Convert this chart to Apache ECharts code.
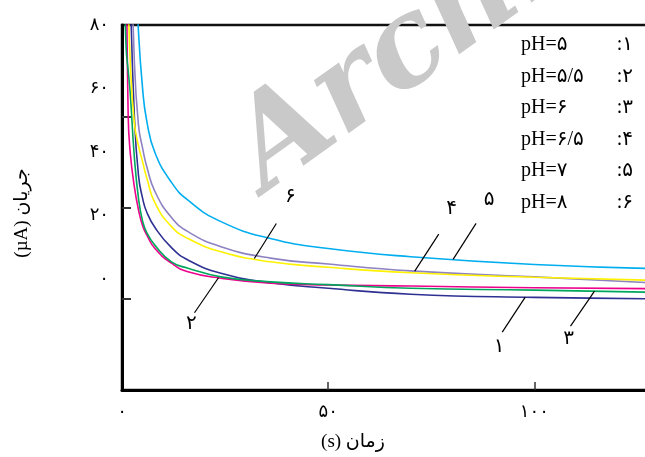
<!DOCTYPE html>
<html>
<head>
<meta charset="utf-8">
<script src="https://cdn.jsdelivr.net/npm/echarts@6/dist/echarts.min.js"></script>
<style>
  html, body { margin: 0; padding: 0; background: #fff; }
  #main { width: 645px; height: 457px; }
</style>
</head>
<body>
<div id="main"></div>
<script>
// Sampling times (s) shared by every curve
const timeS = [0.5, 1, 1.5, 2, 3, 4, 5, 6, 8, 12, 16, 24, 36, 50, 70, 100, 130];

// Current (µA) for each pH
const currentPH5   = [420, 210, 140, 90, 60, 47, 42, 39, 35.6, 31.2, 28.5, 25.6, 23.5, 22.3, 21.0, 20.3, 20.0];
const currentPH55  = [190, 105, 60, 52, 44.5, 39.5, 36, 34, 31, 27.8, 25.9, 24.5, 23.4, 23.0, 22.8, 22.4, 22.2];
const currentPH6   = [92, 75, 70, 65, 51, 42, 37, 34.5, 31.7, 28.1, 26.7, 24.8, 23.7, 23.1, 22.3, 21.9, 21.4];
const currentPH65  = [500, 250, 160, 108, 72, 58, 53, 49, 43.5, 37.8, 34.7, 31.4, 28.9, 27.6, 26.1, 24.8, 23.4];
const currentPH7   = [600, 320, 210, 155, 100, 78.5, 66, 59, 52, 45.5, 41.6, 36.9, 33.2, 31.0, 29.2, 27.5, 26.6];
const currentPH8   = [300, 130, 88, 72, 58.5, 53.5, 50, 46.5, 41, 35.8, 33.2, 30.3, 28.1, 26.9, 25.7, 24.7, 24.0];

// Legend text and curve numbers
const phLabels = ['pH=۵', 'pH=۵/۵', 'pH=۶', 'pH=۶/۵', 'pH=۷', 'pH=۸'];
const curveNumbers = ['۱', '۲', '۳', '۴', '۵', '۶'];

// Tick labels
const xTickValues = [0, 50, 100];
const yTickValues = [0, 20, 40, 60, 80];

const xAxisTitle = '(s) زمان';
const yAxisTitle = '(µA) جریان';

const curves = [currentPH5, currentPH55, currentPH6, currentPH65, currentPH7, currentPH8];
const curveColors = ['#2e3192', '#ec008c', '#00a65d', '#8e82c2', '#00aeef', '#fff200'];

const SERIF = '"Liberation Serif", "DejaVu Sans", serif';
const toFa = v => String(v).replace(/\d/g, d => '۰۱۲۳۴۵۶۷۸۹'[d]);

const chart = echarts.init(document.getElementById('main'), null, { renderer: 'canvas' });

const option = {
  animation: false,
  backgroundColor: '#fff',
  grid: {
    left: 122, top: 25, bottom: 67, width: 536,
    outerBoundsMode: 'none',
    show: true, borderColor: '#111', borderWidth: 2.5, backgroundColor: 'transparent'
  },
  xAxis: {
    type: 'value', min: 0, max: 130,
    axisLine: { show: true, lineStyle: { color: '#000', width: 3 } },
    axisTick: { show: true, inside: true, length: 8, customValues: [50, 100], lineStyle: { color: '#333', width: 1.5 } },
    axisLabel: { customValues: xTickValues, formatter: toFa, fontSize: 18, color: '#000', margin: 13, fontFamily: SERIF },
    splitLine: { show: false }
  },
  yAxis: [
    {
      type: 'value', min: 0, max: 80,
      axisLine: { show: true, lineStyle: { color: '#000', width: 3 } },
      axisTick: { show: true, inside: true, length: 9, customValues: [20, 40, 60], lineStyle: { color: '#333', width: 2 } },
      axisLabel: { show: false },
      splitLine: { show: false }
    },
    {
      // label scale for the current readings
      type: 'value', min: -35, max: 80, position: 'left',
      axisLine: { show: false }, axisTick: { show: false }, splitLine: { show: false },
      axisLabel: { customValues: yTickValues, formatter: toFa, fontSize: 18, color: '#000', margin: 13, fontFamily: SERIF }
    }
  ],
  series: curves.map((vals, i) => ({
    type: 'line',
    name: phLabels[i],
    xAxisIndex: 0, yAxisIndex: 0,
    data: timeS.map((t, k) => [t, vals[k]]),
    showSymbol: false, symbol: 'none',
    smooth: 0.5,
    clip: true,
    z: 3,
    lineStyle: { color: curveColors[i], width: 1.6 }
  }))
};
chart.setOption(option);

// linear reading of a curve at time t
function valueAt(vals, t) {
  for (let k = 1; k < timeS.length; k++) {
    if (t <= timeS[k]) {
      const f = (t - timeS[k - 1]) / (timeS[k] - timeS[k - 1]);
      return vals[k - 1] + f * (vals[k] - vals[k - 1]);
    }
  }
  return vals[vals.length - 1];
}

// curve number tags with leader lines: [curve index, time, line end offset, label offset]
const tags = [
  [5, 32.1, [22, -35], [36, -62]],
  [1, 23.4, [-24, 35], [-27, 46]],
  [3, 71, [24, -37], [37, -62]],
  [4, 80.3, [23, -36], [36, -60]],
  [0, 97.8, [-23, 35], [-26, 50]],
  [2, 114.6, [-24, 35], [-26, 48]]
];

const graphics = [];

// faint watermark lettering
graphics.push({
  type: 'text', x: 283, y: 216, rotation: 0.62, z: 0, silent: true,
  style: { text: 'Archive', font: 'italic bold 122px "DejaVu Serif", serif', fill: '#c9c9c9', textAlign: 'left', textVerticalAlign: 'bottom' }
});

tags.forEach(([ci, t, lineOff, labOff]) => {
  const p = chart.convertToPixel({ gridIndex: 0 }, [t, valueAt(curves[ci], t)]);
  graphics.push({
    type: 'line', z: 10, silent: true,
    shape: { x1: p[0], y1: p[1], x2: p[0] + lineOff[0], y2: p[1] + lineOff[1] },
    style: { stroke: '#000', lineWidth: 1.2 }
  });
  graphics.push({
    type: 'text', z: 10, silent: true, x: p[0] + labOff[0], y: p[1] + labOff[1],
    style: { text: curveNumbers[ci], font: '20px ' + SERIF, fill: '#000', textAlign: 'center', textVerticalAlign: 'middle' }
  });
});

// legend table
phLabels.forEach((lab, i) => {
  const y = 45 + i * 31.5;
  graphics.push({
    type: 'text', z: 10, silent: true, x: 521, y: y,
    style: { text: lab, font: '20px ' + SERIF, fill: '#000', textAlign: 'left', textVerticalAlign: 'middle' }
  });
  graphics.push({
    type: 'text', z: 10, silent: true, x: 633, y: y,
    style: { text: ':' + curveNumbers[i], font: '20px ' + SERIF, fill: '#000', textAlign: 'right', textVerticalAlign: 'middle' }
  });
});

// axis titles
graphics.push({
  type: 'text', z: 10, silent: true, x: 353, y: 442,
  style: { text: xAxisTitle, font: '19px ' + SERIF, fill: '#000', textAlign: 'center', textVerticalAlign: 'middle' }
});
graphics.push({
  type: 'text', z: 10, silent: true, x: 22, y: 213, rotation: Math.PI / 2,
  style: { text: yAxisTitle, font: '19px ' + SERIF, fill: '#000', textAlign: 'center', textVerticalAlign: 'middle' }
});

chart.setOption({ graphic: graphics });
</script>
</body>
</html>
